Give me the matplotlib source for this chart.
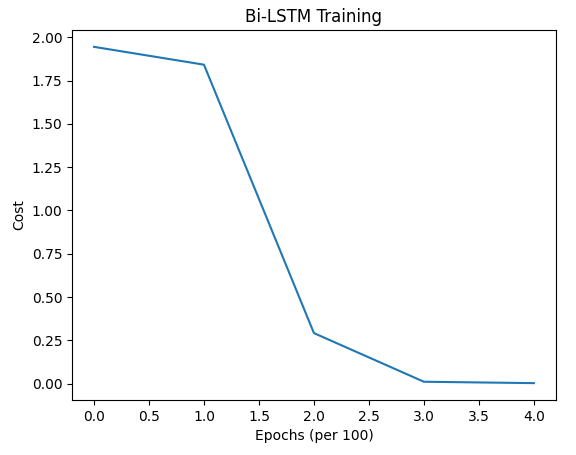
import matplotlib
matplotlib.use("Agg")
import matplotlib.pyplot as plt

epochs = [0, 1, 2, 3, 4]
cost = [1.945, 1.842, 0.292, 0.011, 0.003]

fig = plt.figure(figsize=(5.76, 4.55), dpi=100)
plt.subplots_adjust(left=0.125, right=0.965, top=0.934, bottom=0.121)
plt.plot(epochs, cost)
plt.title("Bi-LSTM Training")
plt.xlabel("Epochs (per 100)")
plt.ylabel("Cost")
plt.savefig("out.png")
